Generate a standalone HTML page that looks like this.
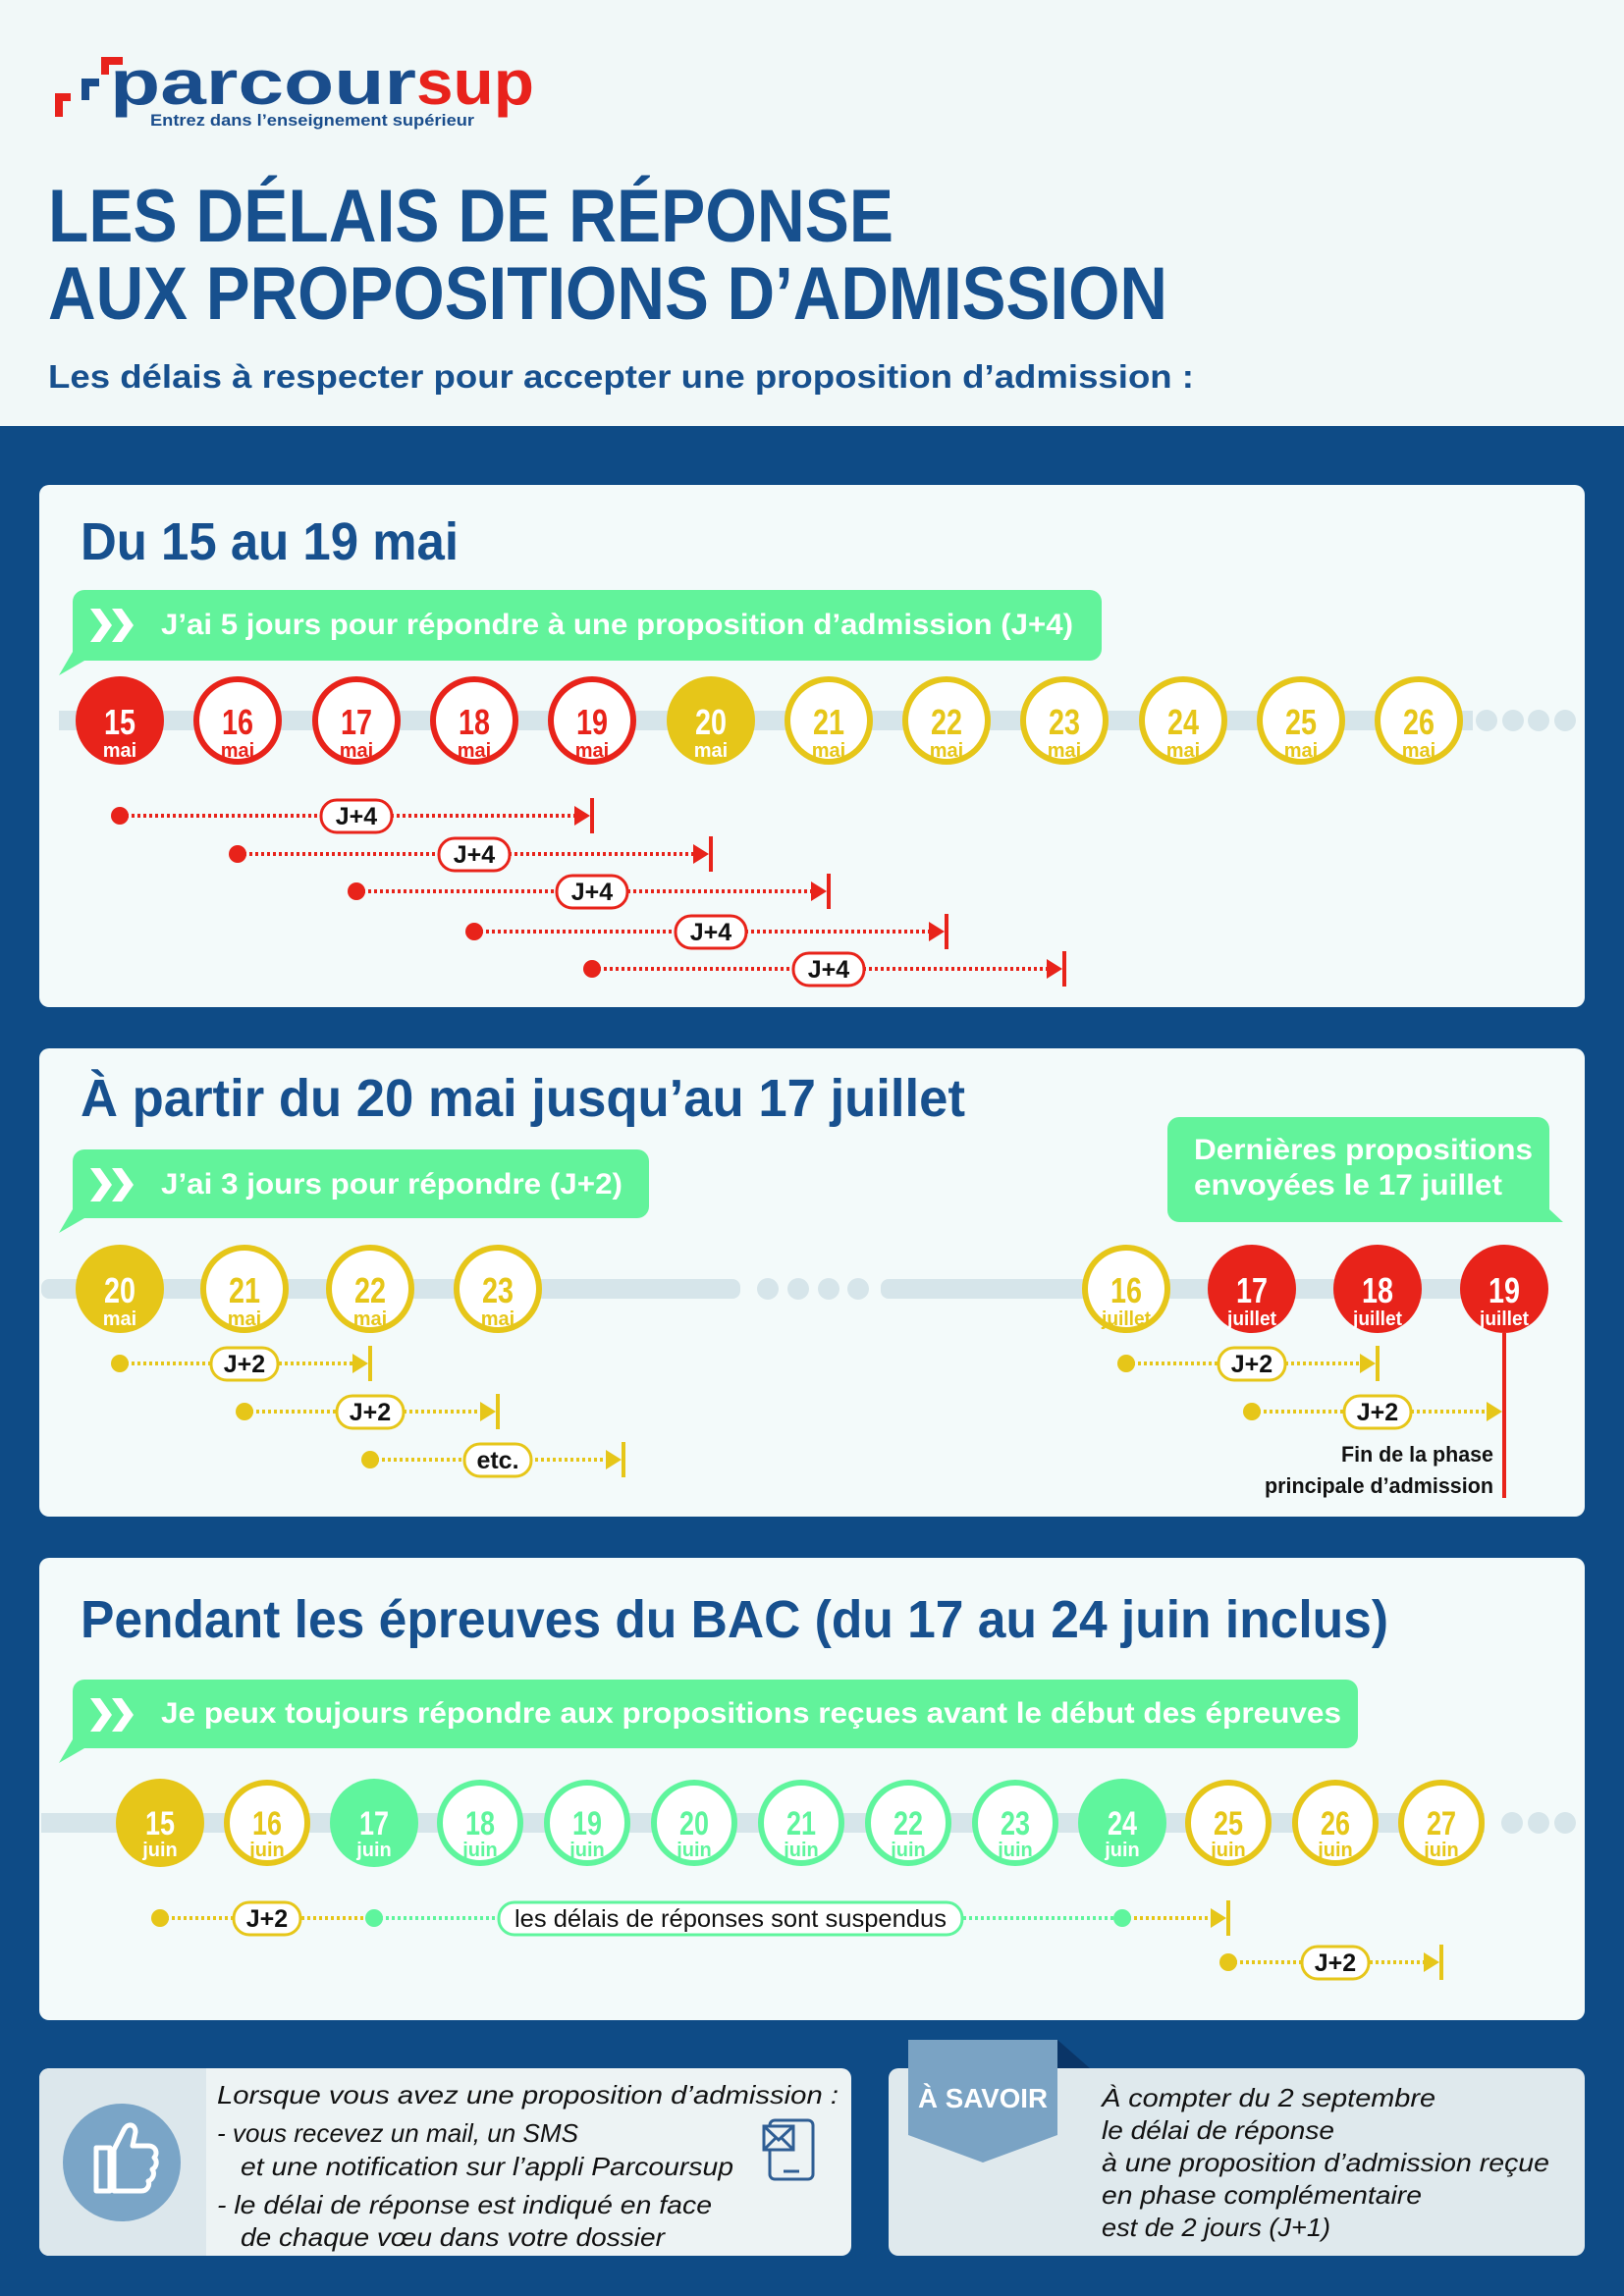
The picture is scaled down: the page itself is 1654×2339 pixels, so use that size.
<!DOCTYPE html>
<html><head><meta charset="utf-8"><style>
html,body{margin:0;padding:0;background:#0e4b86}
svg{display:block}
text{font-family:"Liberation Sans",sans-serif}
.b{font-weight:bold}
</style></head><body>
<svg width="1654" height="2339" viewBox="0 0 1654 2339" xmlns="http://www.w3.org/2000/svg">
<defs>
<g id="chev"><path d="M0,0 L10,0 L22,17 L10,34 L0,34 L12,17Z M22,0 L32,0 L44,17 L32,34 L22,34 L34,17Z" fill="#fff"/></g>
</defs>
<rect x="0" y="0" width="1654" height="2339" fill="#0e4b86"/>
<rect x="0" y="0" width="1654" height="434" fill="#f1f8f8"/>

<!-- logo -->
<path d="M56,95 h16 v8 h-8 v16 h-8z" fill="#e8221c"/>
<path d="M103,58 h22 v8 h-14 v10 h-8z" fill="#e8221c"/>
<path d="M83,80 h18 v8 h-10 v14 h-8z" fill="#1a4d8c"/>
<text x="112" y="106" class="b" font-size="64" fill="#1a4d8c" textLength="312" lengthAdjust="spacingAndGlyphs">parcour</text>
<text x="424" y="106" class="b" font-size="64" fill="#e8221c" textLength="120" lengthAdjust="spacingAndGlyphs">sup</text>
<text x="153" y="128" class="b" font-size="17" fill="#1a4d8c" textLength="330" lengthAdjust="spacingAndGlyphs">Entrez dans l’enseignement supérieur</text>

<text x="49" y="246" class="b" font-size="76" fill="#17508e" textLength="861" lengthAdjust="spacingAndGlyphs">LES DÉLAIS DE RÉPONSE</text>
<text x="49" y="325" class="b" font-size="76" fill="#17508e" textLength="1140" lengthAdjust="spacingAndGlyphs">AUX PROPOSITIONS D’ADMISSION</text>
<text x="49" y="395" class="b" font-size="33" fill="#17508e" textLength="1167" lengthAdjust="spacingAndGlyphs">Les délais à respecter pour accepter une proposition d’admission :</text>

<!-- PANEL 1 -->
<rect x="40" y="494" width="1574" height="532" rx="10" fill="#f3fafa"/>
<text x="82" y="570" class="b" font-size="54" fill="#17508e" textLength="385" lengthAdjust="spacingAndGlyphs">Du 15 au 19 mai</text>
<path d="M86,601 H1110 a12,12 0 0 1 12,12 V661 a12,12 0 0 1 -12,12 H86 L60,688 L74,664 V613 a12,12 0 0 1 12,-12Z" fill="#62f39b"/>
<use href="#chev" x="92" y="620"/>
<text x="164" y="646" class="b" font-size="30" fill="#fff" textLength="929" lengthAdjust="spacingAndGlyphs">J’ai 5 jours pour répondre à une proposition d’admission (J+4)</text>

<rect x="60" y="724" width="1440" height="20" fill="#d6e5ea"/>
<circle cx="1514" cy="734" r="11" fill="#d6e5ea"/><circle cx="1541" cy="734" r="11" fill="#d6e5ea"/><circle cx="1567" cy="734" r="11" fill="#d6e5ea"/><circle cx="1594" cy="734" r="11" fill="#d6e5ea"/>

<g class="b" text-anchor="middle">
<circle cx="122" cy="734" r="45" fill="#e8231a"/><text x="122" y="748" font-size="36" fill="#fff" textLength="32" lengthAdjust="spacingAndGlyphs">15</text><text x="122" y="771" font-size="20" fill="#fff">mai</text>
<circle cx="242" cy="734" r="42" fill="#fff" stroke="#e8231a" stroke-width="6"/><text x="242" y="748" font-size="36" fill="#e8231a" textLength="32" lengthAdjust="spacingAndGlyphs">16</text><text x="242" y="771" font-size="20" fill="#e8231a">mai</text>
<circle cx="363" cy="734" r="42" fill="#fff" stroke="#e8231a" stroke-width="6"/><text x="363" y="748" font-size="36" fill="#e8231a" textLength="32" lengthAdjust="spacingAndGlyphs">17</text><text x="363" y="771" font-size="20" fill="#e8231a">mai</text>
<circle cx="483" cy="734" r="42" fill="#fff" stroke="#e8231a" stroke-width="6"/><text x="483" y="748" font-size="36" fill="#e8231a" textLength="32" lengthAdjust="spacingAndGlyphs">18</text><text x="483" y="771" font-size="20" fill="#e8231a">mai</text>
<circle cx="603" cy="734" r="42" fill="#fff" stroke="#e8231a" stroke-width="6"/><text x="603" y="748" font-size="36" fill="#e8231a" textLength="32" lengthAdjust="spacingAndGlyphs">19</text><text x="603" y="771" font-size="20" fill="#e8231a">mai</text>
<circle cx="724" cy="734" r="45" fill="#e6c619"/><text x="724" y="748" font-size="36" fill="#fff" textLength="32" lengthAdjust="spacingAndGlyphs">20</text><text x="724" y="771" font-size="20" fill="#fff">mai</text>
<circle cx="844" cy="734" r="42" fill="#fff" stroke="#e6c619" stroke-width="6"/><text x="844" y="748" font-size="36" fill="#e6c619" textLength="32" lengthAdjust="spacingAndGlyphs">21</text><text x="844" y="771" font-size="20" fill="#e6c619">mai</text>
<circle cx="964" cy="734" r="42" fill="#fff" stroke="#e6c619" stroke-width="6"/><text x="964" y="748" font-size="36" fill="#e6c619" textLength="32" lengthAdjust="spacingAndGlyphs">22</text><text x="964" y="771" font-size="20" fill="#e6c619">mai</text>
<circle cx="1084" cy="734" r="42" fill="#fff" stroke="#e6c619" stroke-width="6"/><text x="1084" y="748" font-size="36" fill="#e6c619" textLength="32" lengthAdjust="spacingAndGlyphs">23</text><text x="1084" y="771" font-size="20" fill="#e6c619">mai</text>
<circle cx="1205" cy="734" r="42" fill="#fff" stroke="#e6c619" stroke-width="6"/><text x="1205" y="748" font-size="36" fill="#e6c619" textLength="32" lengthAdjust="spacingAndGlyphs">24</text><text x="1205" y="771" font-size="20" fill="#e6c619">mai</text>
<circle cx="1325" cy="734" r="42" fill="#fff" stroke="#e6c619" stroke-width="6"/><text x="1325" y="748" font-size="36" fill="#e6c619" textLength="32" lengthAdjust="spacingAndGlyphs">25</text><text x="1325" y="771" font-size="20" fill="#e6c619">mai</text>
<circle cx="1445" cy="734" r="42" fill="#fff" stroke="#e6c619" stroke-width="6"/><text x="1445" y="748" font-size="36" fill="#e6c619" textLength="32" lengthAdjust="spacingAndGlyphs">26</text><text x="1445" y="771" font-size="20" fill="#e6c619">mai</text>
</g>

<!-- J+4 arrows -->
<g stroke="#e8231a" fill="none">
<line x1="122" y1="831" x2="590" y2="831" stroke-width="4" stroke-dasharray="3 3"/>
<line x1="242" y1="870" x2="710" y2="870" stroke-width="4" stroke-dasharray="3 3"/>
<line x1="363" y1="908" x2="831" y2="908" stroke-width="4" stroke-dasharray="3 3"/>
<line x1="483" y1="949" x2="951" y2="949" stroke-width="4" stroke-dasharray="3 3"/>
<line x1="603" y1="987" x2="1071" y2="987" stroke-width="4" stroke-dasharray="3 3"/>
<line x1="603" y1="813" x2="603" y2="849" stroke-width="4"/>
<line x1="724" y1="852" x2="724" y2="888" stroke-width="4"/>
<line x1="844" y1="890" x2="844" y2="926" stroke-width="4"/>
<line x1="964" y1="931" x2="964" y2="967" stroke-width="4"/>
<line x1="1084" y1="969" x2="1084" y2="1005" stroke-width="4"/>
</g>
<g fill="#e8231a">
<circle cx="122" cy="831" r="9"/><path d="M585,821 L601,831 L585,841Z"/>
<circle cx="242" cy="870" r="9"/><path d="M706,860 L722,870 L706,880Z"/>
<circle cx="363" cy="908" r="9"/><path d="M826,898 L842,908 L826,918Z"/>
<circle cx="483" cy="949" r="9"/><path d="M946,939 L962,949 L946,959Z"/>
<circle cx="603" cy="987" r="9"/><path d="M1066,977 L1082,987 L1066,997Z"/>
</g>
<g fill="#fff" stroke="#e8231a" stroke-width="3">
<rect x="327" y="815" width="72" height="33" rx="16"/>
<rect x="447" y="854" width="72" height="33" rx="16"/>
<rect x="567" y="892" width="72" height="33" rx="16"/>
<rect x="688" y="933" width="72" height="33" rx="16"/>
<rect x="808" y="971" width="72" height="33" rx="16"/>
</g>
<g class="b" font-size="25" fill="#111" text-anchor="middle">
<text x="363" y="840">J+4</text><text x="483" y="879">J+4</text><text x="603" y="917">J+4</text><text x="724" y="958">J+4</text><text x="844" y="996">J+4</text>
</g>

<!-- PANEL 2 -->
<rect x="40" y="1068" width="1574" height="477" rx="10" fill="#f3fafa"/>
<text x="82" y="1137" class="b" font-size="54" fill="#17508e" textLength="901" lengthAdjust="spacingAndGlyphs">À partir du 20 mai jusqu’au 17 juillet</text>
<path d="M86,1171 H649 a12,12 0 0 1 12,12 V1229 a12,12 0 0 1 -12,12 H86 L60,1256 L74,1232 V1183 a12,12 0 0 1 12,-12Z" fill="#62f39b"/>
<use href="#chev" x="92" y="1190"/>
<text x="164" y="1216" class="b" font-size="30" fill="#fff" textLength="470" lengthAdjust="spacingAndGlyphs">J’ai 3 jours pour répondre (J+2)</text>
<path d="M1201,1138 H1566 a12,12 0 0 1 12,12 V1232 L1592,1245 H1201 a12,12 0 0 1 -12,-12 V1150 a12,12 0 0 1 12,-12Z" fill="#62f39b"/>
<text x="1216" y="1181" class="b" font-size="30" fill="#fff" textLength="345" lengthAdjust="spacingAndGlyphs">Dernières propositions</text>
<text x="1216" y="1217" class="b" font-size="30" fill="#fff" textLength="314" lengthAdjust="spacingAndGlyphs">envoyées le 17 juillet</text>

<rect x="42" y="1303" width="712" height="20" rx="8" fill="#d6e5ea"/>
<circle cx="782" cy="1313" r="11" fill="#d6e5ea"/><circle cx="813" cy="1313" r="11" fill="#d6e5ea"/><circle cx="844" cy="1313" r="11" fill="#d6e5ea"/><circle cx="874" cy="1313" r="11" fill="#d6e5ea"/>
<rect x="897" y="1303" width="620" height="20" rx="8" fill="#d6e5ea"/>

<g class="b" text-anchor="middle">
<circle cx="122" cy="1313" r="45" fill="#e6c619"/><text x="122" y="1327" font-size="36" fill="#fff" textLength="32" lengthAdjust="spacingAndGlyphs">20</text><text x="122" y="1350" font-size="20" fill="#fff">mai</text>
<circle cx="249" cy="1313" r="42" fill="#fff" stroke="#e6c619" stroke-width="6"/><text x="249" y="1327" font-size="36" fill="#e6c619" textLength="32" lengthAdjust="spacingAndGlyphs">21</text><text x="249" y="1350" font-size="20" fill="#e6c619">mai</text>
<circle cx="377" cy="1313" r="42" fill="#fff" stroke="#e6c619" stroke-width="6"/><text x="377" y="1327" font-size="36" fill="#e6c619" textLength="32" lengthAdjust="spacingAndGlyphs">22</text><text x="377" y="1350" font-size="20" fill="#e6c619">mai</text>
<circle cx="507" cy="1313" r="42" fill="#fff" stroke="#e6c619" stroke-width="6"/><text x="507" y="1327" font-size="36" fill="#e6c619" textLength="32" lengthAdjust="spacingAndGlyphs">23</text><text x="507" y="1350" font-size="20" fill="#e6c619">mai</text>
<circle cx="1147" cy="1313" r="42" fill="#fff" stroke="#e6c619" stroke-width="6"/><text x="1147" y="1327" font-size="36" fill="#e6c619" textLength="32" lengthAdjust="spacingAndGlyphs">16</text><text x="1147" y="1350" font-size="20" fill="#e6c619" textLength="50" lengthAdjust="spacingAndGlyphs">juillet</text>
<circle cx="1275" cy="1313" r="45" fill="#e8231a"/><text x="1275" y="1327" font-size="36" fill="#fff" textLength="32" lengthAdjust="spacingAndGlyphs">17</text><text x="1275" y="1350" font-size="20" fill="#fff" textLength="50" lengthAdjust="spacingAndGlyphs">juillet</text>
<circle cx="1403" cy="1313" r="45" fill="#e8231a"/><text x="1403" y="1327" font-size="36" fill="#fff" textLength="32" lengthAdjust="spacingAndGlyphs">18</text><text x="1403" y="1350" font-size="20" fill="#fff" textLength="50" lengthAdjust="spacingAndGlyphs">juillet</text>
<circle cx="1532" cy="1313" r="45" fill="#e8231a"/><text x="1532" y="1327" font-size="36" fill="#fff" textLength="32" lengthAdjust="spacingAndGlyphs">19</text><text x="1532" y="1350" font-size="20" fill="#fff" textLength="50" lengthAdjust="spacingAndGlyphs">juillet</text>
</g>

<line x1="1532" y1="1358" x2="1532" y2="1526" stroke="#e8231a" stroke-width="4"/>
<g stroke="#e6c619" fill="none">
<line x1="122" y1="1389" x2="365" y2="1389" stroke-width="4" stroke-dasharray="3 3"/>
<line x1="249" y1="1438" x2="495" y2="1438" stroke-width="4" stroke-dasharray="3 3"/>
<line x1="377" y1="1487" x2="622" y2="1487" stroke-width="4" stroke-dasharray="3 3"/>
<line x1="1147" y1="1389" x2="1391" y2="1389" stroke-width="4" stroke-dasharray="3 3"/>
<line x1="1275" y1="1438" x2="1518" y2="1438" stroke-width="4" stroke-dasharray="3 3"/>
<line x1="377" y1="1371" x2="377" y2="1407" stroke-width="4"/>
<line x1="507" y1="1420" x2="507" y2="1456" stroke-width="4"/>
<line x1="635" y1="1469" x2="635" y2="1505" stroke-width="4"/>
<line x1="1403" y1="1371" x2="1403" y2="1407" stroke-width="4"/>
</g>
<g fill="#e6c619">
<circle cx="122" cy="1389" r="9"/><path d="M359,1379 L375,1389 L359,1399Z"/>
<circle cx="249" cy="1438" r="9"/><path d="M489,1428 L505,1438 L489,1448Z"/>
<circle cx="377" cy="1487" r="9"/><path d="M617,1477 L633,1487 L617,1497Z"/>
<circle cx="1147" cy="1389" r="9"/><path d="M1385,1379 L1401,1389 L1385,1399Z"/>
<circle cx="1275" cy="1438" r="9"/><path d="M1514,1428 L1530,1438 L1514,1448Z"/>
</g>
<g fill="#fff" stroke="#e6c619" stroke-width="3">
<rect x="215" y="1373" width="68" height="33" rx="16"/>
<rect x="343" y="1422" width="68" height="33" rx="16"/>
<rect x="473" y="1471" width="68" height="33" rx="16"/>
<rect x="1241" y="1373" width="68" height="33" rx="16"/>
<rect x="1369" y="1422" width="68" height="33" rx="16"/>
</g>
<g class="b" font-size="25" fill="#111" text-anchor="middle">
<text x="249" y="1398">J+2</text><text x="377" y="1447">J+2</text><text x="507" y="1496">etc.</text><text x="1275" y="1398">J+2</text><text x="1403" y="1447">J+2</text>
</g>
<g class="b" font-size="22" fill="#111" text-anchor="end">
<text x="1521" y="1489" textLength="155" lengthAdjust="spacingAndGlyphs">Fin de la phase</text>
<text x="1521" y="1521" textLength="233" lengthAdjust="spacingAndGlyphs">principale d’admission</text>
</g>

<!-- PANEL 3 -->
<rect x="40" y="1587" width="1574" height="471" rx="10" fill="#f3fafa"/>
<text x="82" y="1668" class="b" font-size="54" fill="#17508e" textLength="1332" lengthAdjust="spacingAndGlyphs">Pendant les épreuves du BAC (du 17 au 24 juin inclus)</text>
<path d="M86,1711 H1371 a12,12 0 0 1 12,12 V1769 a12,12 0 0 1 -12,12 H86 L60,1796 L74,1772 V1723 a12,12 0 0 1 12,-12Z" fill="#62f39b"/>
<use href="#chev" x="92" y="1730"/>
<text x="164" y="1755" class="b" font-size="30" fill="#fff" textLength="1202" lengthAdjust="spacingAndGlyphs">Je peux toujours répondre aux propositions reçues avant le début des épreuves</text>

<rect x="42" y="1847" width="1470" height="20" fill="#d6e5ea"/>
<circle cx="1540" cy="1857" r="11" fill="#d6e5ea"/><circle cx="1567" cy="1857" r="11" fill="#d6e5ea"/><circle cx="1594" cy="1857" r="11" fill="#d6e5ea"/>

<g class="b" text-anchor="middle">
<circle cx="163" cy="1857" r="45" fill="#e6c619"/><text x="163" y="1869" font-size="34" fill="#fff" textLength="30" lengthAdjust="spacingAndGlyphs">15</text><text x="163" y="1891" font-size="20" fill="#fff">juin</text>
<circle cx="272" cy="1857" r="41" fill="#fff" stroke="#e6c619" stroke-width="6"/><text x="272" y="1869" font-size="34" fill="#e6c619" textLength="30" lengthAdjust="spacingAndGlyphs">16</text><text x="272" y="1891" font-size="20" fill="#e6c619">juin</text>
<circle cx="381" cy="1857" r="45" fill="#5ff59d"/><text x="381" y="1869" font-size="34" fill="#fff" textLength="30" lengthAdjust="spacingAndGlyphs">17</text><text x="381" y="1891" font-size="20" fill="#fff">juin</text>
<circle cx="489" cy="1857" r="41" fill="#fff" stroke="#5ff59d" stroke-width="6"/><text x="489" y="1869" font-size="34" fill="#5ff59d" textLength="30" lengthAdjust="spacingAndGlyphs">18</text><text x="489" y="1891" font-size="20" fill="#5ff59d">juin</text>
<circle cx="598" cy="1857" r="41" fill="#fff" stroke="#5ff59d" stroke-width="6"/><text x="598" y="1869" font-size="34" fill="#5ff59d" textLength="30" lengthAdjust="spacingAndGlyphs">19</text><text x="598" y="1891" font-size="20" fill="#5ff59d">juin</text>
<circle cx="707" cy="1857" r="41" fill="#fff" stroke="#5ff59d" stroke-width="6"/><text x="707" y="1869" font-size="34" fill="#5ff59d" textLength="30" lengthAdjust="spacingAndGlyphs">20</text><text x="707" y="1891" font-size="20" fill="#5ff59d">juin</text>
<circle cx="816" cy="1857" r="41" fill="#fff" stroke="#5ff59d" stroke-width="6"/><text x="816" y="1869" font-size="34" fill="#5ff59d" textLength="30" lengthAdjust="spacingAndGlyphs">21</text><text x="816" y="1891" font-size="20" fill="#5ff59d">juin</text>
<circle cx="925" cy="1857" r="41" fill="#fff" stroke="#5ff59d" stroke-width="6"/><text x="925" y="1869" font-size="34" fill="#5ff59d" textLength="30" lengthAdjust="spacingAndGlyphs">22</text><text x="925" y="1891" font-size="20" fill="#5ff59d">juin</text>
<circle cx="1034" cy="1857" r="41" fill="#fff" stroke="#5ff59d" stroke-width="6"/><text x="1034" y="1869" font-size="34" fill="#5ff59d" textLength="30" lengthAdjust="spacingAndGlyphs">23</text><text x="1034" y="1891" font-size="20" fill="#5ff59d">juin</text>
<circle cx="1143" cy="1857" r="45" fill="#5ff59d"/><text x="1143" y="1869" font-size="34" fill="#fff" textLength="30" lengthAdjust="spacingAndGlyphs">24</text><text x="1143" y="1891" font-size="20" fill="#fff">juin</text>
<circle cx="1251" cy="1857" r="41" fill="#fff" stroke="#e6c619" stroke-width="6"/><text x="1251" y="1869" font-size="34" fill="#e6c619" textLength="30" lengthAdjust="spacingAndGlyphs">25</text><text x="1251" y="1891" font-size="20" fill="#e6c619">juin</text>
<circle cx="1360" cy="1857" r="41" fill="#fff" stroke="#e6c619" stroke-width="6"/><text x="1360" y="1869" font-size="34" fill="#e6c619" textLength="30" lengthAdjust="spacingAndGlyphs">26</text><text x="1360" y="1891" font-size="20" fill="#e6c619">juin</text>
<circle cx="1468" cy="1857" r="41" fill="#fff" stroke="#e6c619" stroke-width="6"/><text x="1468" y="1869" font-size="34" fill="#e6c619" textLength="30" lengthAdjust="spacingAndGlyphs">27</text><text x="1468" y="1891" font-size="20" fill="#e6c619">juin</text>
</g>

<g fill="none" stroke-width="4" stroke-dasharray="3 3">
<line x1="163" y1="1954" x2="381" y2="1954" stroke="#e6c619"/>
<line x1="381" y1="1954" x2="1143" y2="1954" stroke="#5ff59d"/>
<line x1="1143" y1="1954" x2="1240" y2="1954" stroke="#e6c619"/>
<line x1="1251" y1="1999" x2="1456" y2="1999" stroke="#e6c619"/>
</g>
<line x1="1251" y1="1936" x2="1251" y2="1972" stroke="#e6c619" stroke-width="4"/>
<line x1="1468" y1="1981" x2="1468" y2="2017" stroke="#e6c619" stroke-width="4"/>
<g fill="#e6c619">
<circle cx="163" cy="1954" r="9"/><path d="M1233,1944 L1249,1954 L1233,1964Z"/>
<circle cx="1251" cy="1999" r="9"/><path d="M1450,1989 L1466,1999 L1450,2009Z"/>
</g>
<circle cx="381" cy="1954" r="9" fill="#5ff59d"/><circle cx="1143" cy="1954" r="9" fill="#5ff59d"/>
<rect x="238" y="1938" width="68" height="33" rx="16" fill="#fff" stroke="#e6c619" stroke-width="3"/>
<rect x="508" y="1938" width="472" height="33" rx="16" fill="#fff" stroke="#5ff59d" stroke-width="3"/>
<rect x="1326" y="1983" width="68" height="33" rx="16" fill="#fff" stroke="#e6c619" stroke-width="3"/>
<g class="b" font-size="25" fill="#111" text-anchor="middle">
<text x="272" y="1963">J+2</text><text x="1360" y="2008">J+2</text>
</g>
<text x="744" y="1963" font-size="25" fill="#111" text-anchor="middle" textLength="440" lengthAdjust="spacingAndGlyphs">les délais de réponses sont suspendus</text>

<!-- BOTTOM LEFT -->
<rect x="40" y="2107" width="827" height="191" rx="10" fill="#edf3f4"/>
<path d="M50,2107 H210 V2298 H50 a10,10 0 0 1 -10,-10 V2117 a10,10 0 0 1 10,-10Z" fill="#dce7ec"/>
<circle cx="124" cy="2203" r="60" fill="#7aa5c7"/>
<path d="M98,2188 h14 v44 h-14z M116,2190 l10,-20 c4,-8 12,-6 12,2 l-3,14 h16 c8,0 10,8 6,12 c4,4 2,10 -2,12 c3,4 1,10 -4,12 c2,4 -1,10 -7,10 h-28z" fill="none" stroke="#fff" stroke-width="5" stroke-linejoin="round"/>
<g font-style="italic" font-size="26" fill="#111">
<text x="221" y="2143" textLength="633" lengthAdjust="spacingAndGlyphs">Lorsque vous avez une proposition d’admission :</text>
<text x="221" y="2182" textLength="368" lengthAdjust="spacingAndGlyphs">- vous recevez un mail, un SMS</text>
<text x="245" y="2216" textLength="502" lengthAdjust="spacingAndGlyphs">et une notification sur l’appli Parcoursup</text>
<text x="221" y="2255" textLength="504" lengthAdjust="spacingAndGlyphs">- le délai de réponse est indiqué en face</text>
<text x="245" y="2288" textLength="432" lengthAdjust="spacingAndGlyphs">de chaque vœu dans votre dossier</text>
</g>
<g fill="none" stroke="#2f5e94" stroke-width="3">
<rect x="784" y="2160" width="44" height="60" rx="5"/>
<rect x="778" y="2166" width="30" height="24" fill="#edf3f4"/>
<path d="M778,2166 L793,2180 L808,2166 M778,2190 L790,2178 M808,2190 L796,2178"/>
<line x1="798" y1="2212" x2="814" y2="2212"/>
</g>

<!-- BOTTOM RIGHT -->
<rect x="905" y="2107" width="709" height="191" rx="10" fill="#dfe9ed"/>
<path d="M1077,2078 L1110,2107 H1077Z" fill="#0a3567"/>
<path d="M925,2078 H1077 V2175 L1001,2203 L925,2175Z" fill="#7aa3c4"/>
<text x="1001" y="2147" class="b" font-size="28" fill="#fff" text-anchor="middle" textLength="132" lengthAdjust="spacingAndGlyphs">À SAVOIR</text>
<g font-style="italic" font-size="26" fill="#111">
<text x="1122" y="2146" textLength="340" lengthAdjust="spacingAndGlyphs">À compter du 2 septembre</text>
<text x="1122" y="2179" textLength="237" lengthAdjust="spacingAndGlyphs">le délai de réponse</text>
<text x="1122" y="2212" textLength="456" lengthAdjust="spacingAndGlyphs">à une proposition d’admission reçue</text>
<text x="1122" y="2245" textLength="326" lengthAdjust="spacingAndGlyphs">en phase complémentaire</text>
<text x="1122" y="2278" textLength="233" lengthAdjust="spacingAndGlyphs">est de 2 jours (J+1)</text>
</g>
</svg>
</body></html>
